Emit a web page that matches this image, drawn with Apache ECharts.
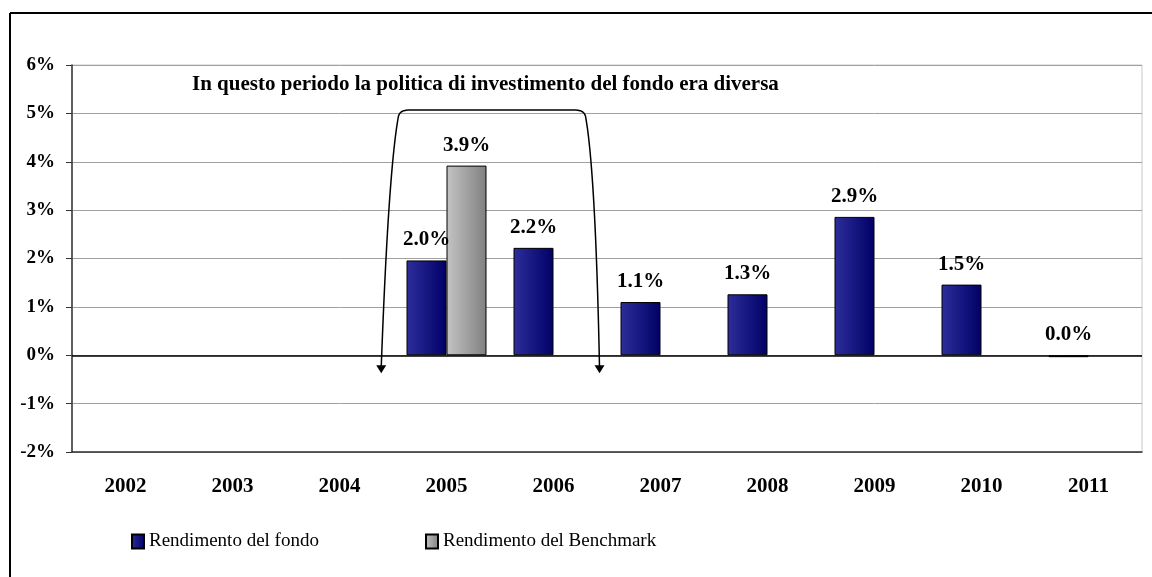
<!DOCTYPE html>
<html>
<head>
<meta charset="utf-8">
<script src="https://cdn.jsdelivr.net/npm/echarts@6/dist/echarts.min.js"></script>
<style>
  html, body { margin: 0; padding: 0; background: #fff; }
  #chart { width: 1152px; height: 577px; }
</style>
</head>
<body>
<div id="chart"></div>
<script>
// anni sull'asse x
const years = ['2002', '2003', '2004', '2005', '2006', '2007', '2008', '2009', '2010', '2011']
// rendimenti (%)
const fondo = [null, null, null, 1.96, 2.22, 1.10, 1.26, 2.86, 1.46, -0.04]
const benchmark = [null, null, null, 3.92, null, null, null, null, null, null]
const yTicks = [-2, -1, 0, 1, 2, 3, 4, 5, 6]
const note = 'In questo periodo la politica di investimento del fondo era diversa'

const serif = '"Liberation Serif", "Times New Roman", serif'

function pct(p) {
  if (p.value == null) return ''
  let s = Number(p.value).toFixed(1)
  if (s === '-0.0') s = '0.0'
  return s + '%'
}

const barLabel = {
  show: true,
  position: 'top',
  distance: 10,
  formatter: pct,
  fontFamily: serif,
  fontWeight: 'bold',
  fontSize: 21,
  color: '#000',
}

const myChart = echarts.init(document.getElementById('chart'))
const option = {
  animation: false,
  backgroundColor: '#fff',
  grid: {
    left: 72,
    right: 10,
    top: 65,
    bottom: 125,
    show: true,
    borderColor: '#c8c8c8',
    borderWidth: 1,
  },
  legend: [
    {
      left: 126,
      top: 527,
      itemWidth: 12,
      itemHeight: 14,
      icon: 'rect',
      data: ['Rendimento del fondo'],
      textStyle: { fontFamily: serif, fontSize: 19, color: '#000' },
    },
    {
      left: 420,
      top: 527,
      itemWidth: 12,
      itemHeight: 14,
      icon: 'rect',
      data: ['Rendimento del Benchmark'],
      textStyle: { fontFamily: serif, fontSize: 19, color: '#000' },
    },
  ],
  xAxis: {
    type: 'category',
    data: years,
    axisLine: { onZero: false, lineStyle: { color: '#333', width: 1.5 } },
    axisTick: { show: false },
    axisLabel: {
      margin: 24,
      fontFamily: serif,
      fontWeight: 'bold',
      fontSize: 21,
      color: '#000',
    },
    splitLine: { show: false },
  },
  yAxis: {
    type: 'value',
    min: yTicks[0],
    max: yTicks[yTicks.length - 1],
    interval: 1,
    axisLine: { show: true, lineStyle: { color: '#333', width: 1.5 } },
    axisTick: { show: true, length: 6, lineStyle: { color: '#333' } },
    axisLabel: {
      margin: 17,
      formatter: (v) => v + '%',
      fontFamily: serif,
      fontWeight: 'bold',
      fontSize: 19,
      color: '#000',
    },
    splitLine: { show: true, lineStyle: { color: '#a0a0a0', width: 1 } },
  },
  series: [
    {
      name: 'Rendimento del fondo',
      type: 'bar',
      barWidth: 40,
      barGap: '0%',
      data: fondo,
      itemStyle: {
        color: new echarts.graphic.LinearGradient(0, 0, 1, 0, [
          { offset: 0, color: '#2e2e9c' },
          { offset: 1, color: '#000066' },
        ]),
        borderColor: '#000',
        borderWidth: 1,
      },
      label: barLabel,
      markLine: {
        silent: true,
        symbol: 'none',
        label: { show: false },
        lineStyle: { color: '#000', width: 1.5, type: 'solid' },
        data: [{ yAxis: 0 }],
      },
    },
    {
      name: 'Rendimento del Benchmark',
      type: 'bar',
      barWidth: 40,
      barGap: '0%',
      data: benchmark,
      itemStyle: {
        color: new echarts.graphic.LinearGradient(0, 0, 1, 0, [
          { offset: 0, color: '#c4c4c4' },
          { offset: 1, color: '#808080' },
        ]),
        borderColor: '#000',
        borderWidth: 1,
      },
      label: barLabel,
    },
  ],
}
myChart.setOption(option)

// parentesi con frecce sopra il periodo 2005-2006
const c05 = myChart.convertToPixel({ xAxisIndex: 0 }, 3)
const c06 = myChart.convertToPixel({ xAxisIndex: 0 }, 4)
const band = c06 - c05
const yTop = myChart.convertToPixel({ yAxisIndex: 0 }, 5.07)
const yTip = myChart.convertToPixel({ yAxisIndex: 0 }, -0.37)
const yNote = myChart.convertToPixel({ yAxisIndex: 0 }, 5.6)
const xL = c05 - 0.61 * band
const xR = c06 + 0.43 * band
const xLt = c05 - 0.43 * band
const xRt = c06 + 0.28 * band

// campiona una curva quadratica per la polyline
function quad(p0, p1, p2, n) {
  const out = []
  for (let i = 0; i <= n; i++) {
    const t = i / n
    const a = (1 - t) * (1 - t), b = 2 * (1 - t) * t, c = t * t
    out.push([a * p0[0] + b * p1[0] + c * p2[0], a * p0[1] + b * p1[1] + c * p2[1]])
  }
  return out
}
const bracket = []
  .concat(quad([xL, yTip - 6], [xLt - 12, yTop + 60], [xLt - 2, yTop + 6], 30))
  .concat(quad([xLt - 2, yTop + 6], [xLt, yTop], [xLt + 8, yTop], 6))
  .concat(quad([xRt - 8, yTop], [xRt, yTop], [xRt + 2, yTop + 6], 6))
  .concat(quad([xRt + 2, yTop + 6], [xRt + 12, yTop + 60], [xR, yTip - 6], 30))

myChart.setOption({
  graphic: [
    // bordo esterno
    { type: 'line', shape: { x1: 10, y1: 13, x2: 1152, y2: 13 }, style: { stroke: '#000', lineWidth: 2 } },
    { type: 'line', shape: { x1: 10, y1: 13, x2: 10, y2: 577 }, style: { stroke: '#000', lineWidth: 2 } },
    {
      type: 'polyline',
      shape: { points: bracket },
      style: { stroke: '#000', lineWidth: 1.5, fill: null },
    },
    {
      type: 'polygon',
      shape: { points: [[xL - 5, yTip - 8], [xL + 5, yTip - 8], [xL, yTip]] },
      style: { fill: '#000' },
    },
    {
      type: 'polygon',
      shape: { points: [[xR - 5, yTip - 8], [xR + 5, yTip - 8], [xR, yTip]] },
      style: { fill: '#000' },
    },
    {
      type: 'text',
      x: 192,
      y: yNote,
      style: {
        text: note,
        fontFamily: serif,
        fontWeight: 'bold',
        fontSize: 21,
        fill: '#000',
        textVerticalAlign: 'middle',
      },
    },
  ],
})
</script>
</body>
</html>
